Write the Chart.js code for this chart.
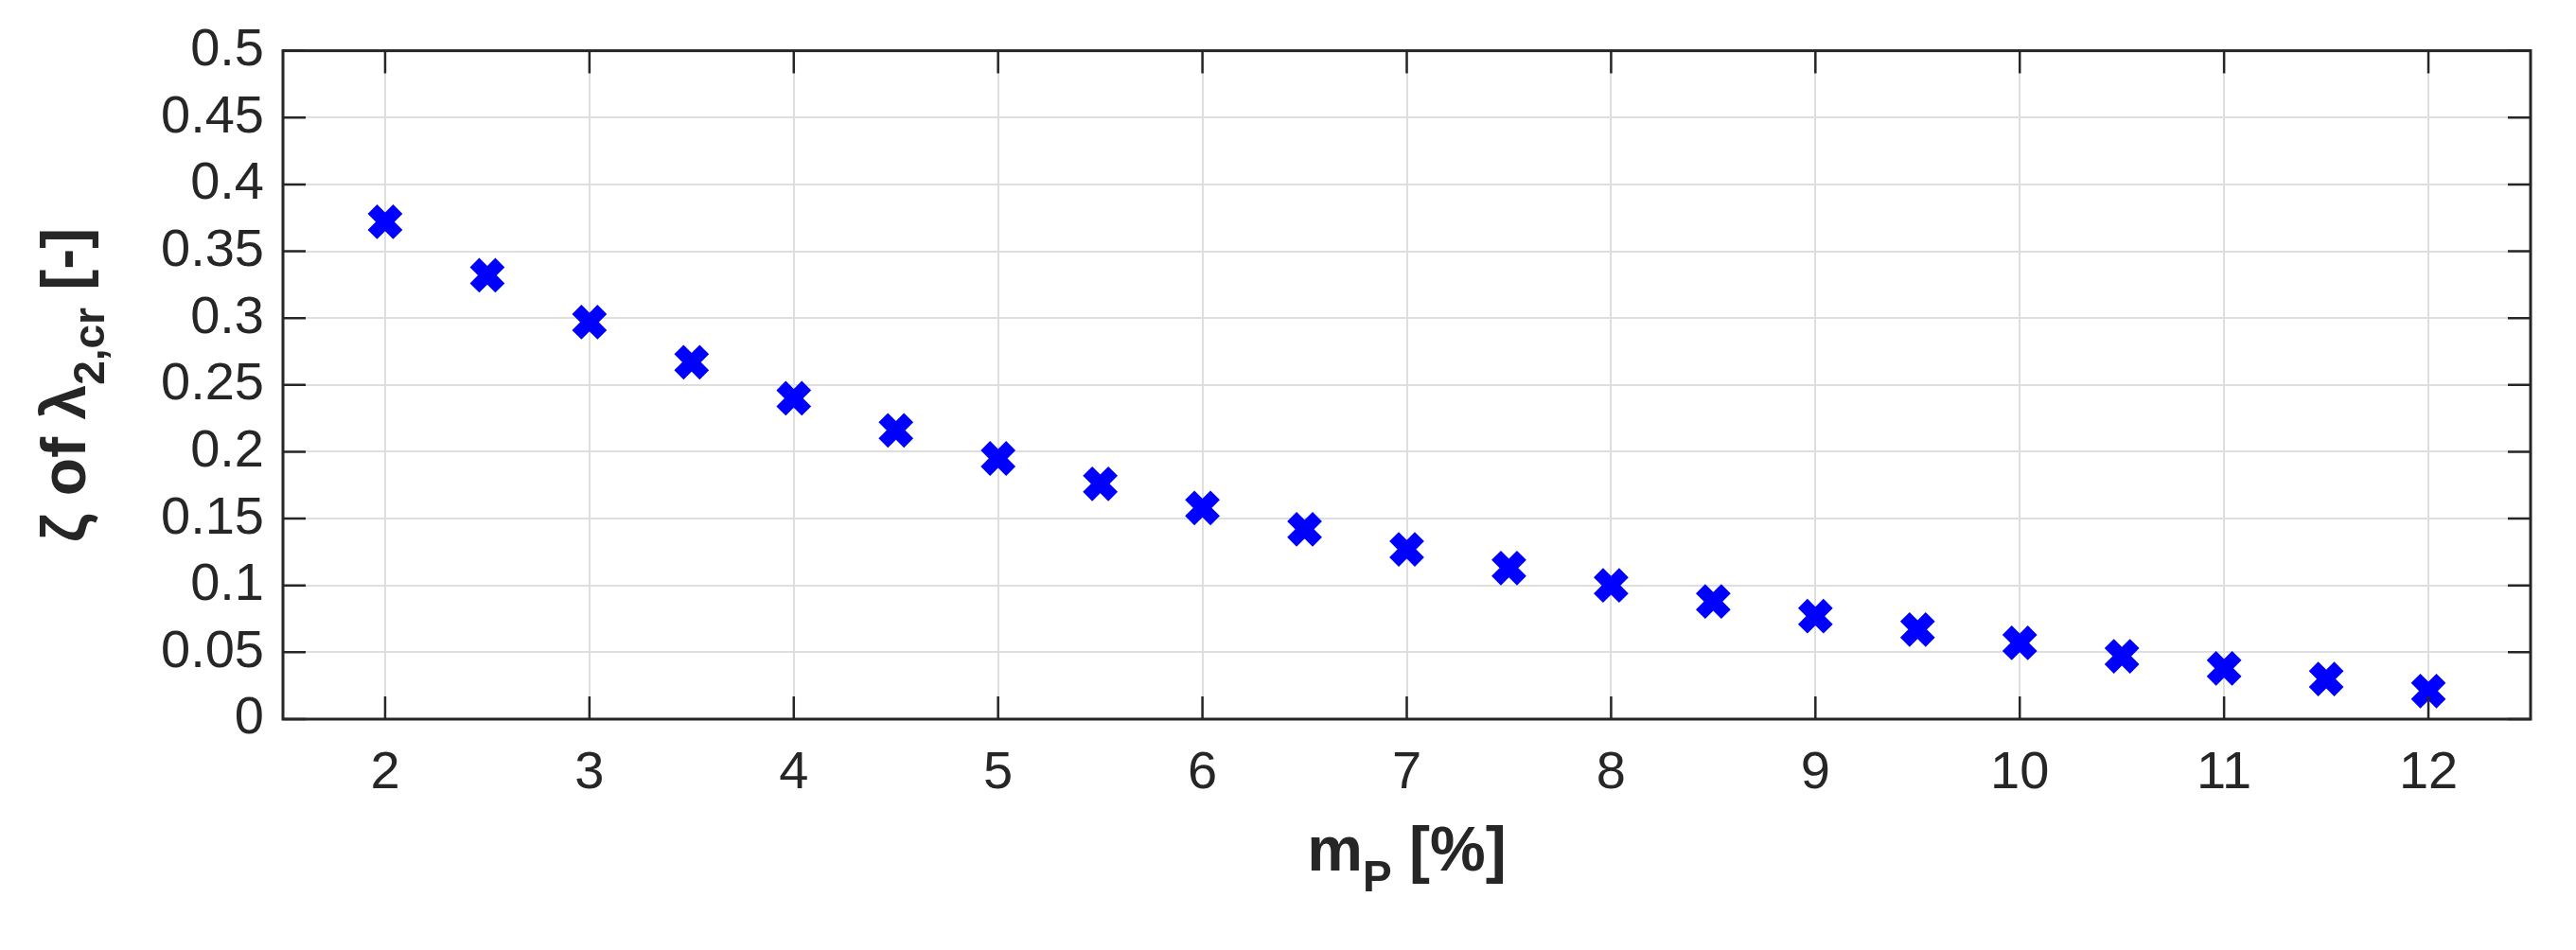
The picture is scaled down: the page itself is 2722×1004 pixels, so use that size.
<!DOCTYPE html>
<html><head><meta charset="utf-8">
<script src="https://cdn.jsdelivr.net/npm/chart.js@4"></script>
<style>html,body{margin:0;background:#fff}#w{width:2722px;height:1004px}</style>
</head><body><div id="w"><canvas id="c"></canvas></div>
<script>
const mP = [2,2.5,3,3.5,4,4.5,5,5.5,6,6.5,7,7.5,8,8.5,9,9.5,10,10.5,11,11.5,12];
const zeta = [0.372,0.332,0.297,0.267,0.240,0.216,0.195,0.176,0.158,0.142,0.127,0.113,0.100,0.088,0.077,0.067,0.057,0.047,0.038,0.030,0.021];
const xTicks = [2,3,4,5,6,7,8,9,10,11,12];
const yTicks = [0,0.05,0.1,0.15,0.2,0.25,0.3,0.35,0.4,0.45,0.5];
const yLabels = ['0','0.05','0.1','0.15','0.2','0.25','0.3','0.35','0.4','0.45','0.5'];

const F = 'Arial, "Liberation Sans", sans-serif';
const deco = {
  id:'deco',
  afterDraw(ch){
    const c=ch.ctx, a=ch.chartArea, xs=ch.scales.x, ys=ch.scales.y;
    c.save();
    c.strokeStyle='#262626'; c.lineWidth=3;
    c.strokeRect(a.left,a.top,a.right-a.left,a.bottom-a.top);
    c.lineWidth=2.5;
    const L=24;
    xTicks.forEach(v=>{const x=xs.getPixelForValue(v);c.beginPath();c.moveTo(x,a.bottom);c.lineTo(x,a.bottom-L);c.moveTo(x,a.top);c.lineTo(x,a.top+L);c.stroke();});
    yTicks.forEach(v=>{const y=ys.getPixelForValue(v);c.beginPath();c.moveTo(a.left,y);c.lineTo(a.left+L,y);c.moveTo(a.right,y);c.lineTo(a.right-L,y);c.stroke();});
    c.fillStyle='#262626';
    const B='bold 66px '+F, S='bold 46px '+F;
    const cx=(a.left+a.right)/2, by=920;
    const s1='m', s2='P', s3=' [%]';
    c.font=B; const w1=c.measureText(s1).width, w3=c.measureText(s3).width;
    c.font=S; const w2=c.measureText(s2).width;
    let x0=cx-(w1+w2+w3)/2;
    c.font=B; c.fillText(s1,x0,by);
    c.font=S; c.fillText(s2,x0+w1,by+22);
    c.font=B; c.fillText(s3,x0+w1+w2,by);
    c.translate(90,(a.top+a.bottom)/2); c.rotate(-Math.PI/2);
    const t1='ζ of λ', t2='2,cr', t3=' [-]';
    c.font=B; const u1=c.measureText(t1).width, u3=c.measureText(t3).width;
    c.font=S; const u2=c.measureText(t2).width;
    let y0=-(u1+u2+u3)/2;
    c.font=B; c.fillText(t1,y0,0);
    c.font=S; c.fillText(t2,y0+u1,20);
    c.font=B; c.fillText(t3,y0+u1+u2,0);
    c.restore();
  }
};
new Chart(document.getElementById('c'),{
  type:'scatter',
  data:{datasets:[{data:mP.map((x,i)=>({x,y:zeta[i]})),pointStyle:'crossRot',pointRadius:19,pointBorderWidth:14,borderColor:'#0000ff',backgroundColor:'#0000ff'}]},
  options:{responsive:true,maintainAspectRatio:false,animation:false,
    layout:{padding:{top:30,right:48,bottom:0,left:0}},
    plugins:{legend:{display:false},tooltip:{enabled:false}},
    scales:{
      x:{type:'linear',min:1.5,max:12.5,afterBuildTicks:s=>{s.ticks=xTicks.map(v=>({value:v}));},
        afterFit:s=>{s.height=244;},
        grid:{color:'#dedede',lineWidth:2,drawTicks:false},border:{display:false},
        ticks:{color:'#262626',font:{size:56,family:F},padding:24}},
      y:{min:0,max:0.5,afterBuildTicks:s=>{s.ticks=yTicks.map(v=>({value:v}));},
        afterFit:s=>{s.width=299;},
        grid:{color:'#dedede',lineWidth:2,drawTicks:false},border:{display:false},
        ticks:{color:'#262626',font:{size:56,family:F},padding:20,callback:(v)=>{const i=yTicks.findIndex(t=>Math.abs(t-v)<1e-9);return i>=0?yLabels[i]:'';}}}
    }},
  plugins:[deco]
});
</script></body></html>
